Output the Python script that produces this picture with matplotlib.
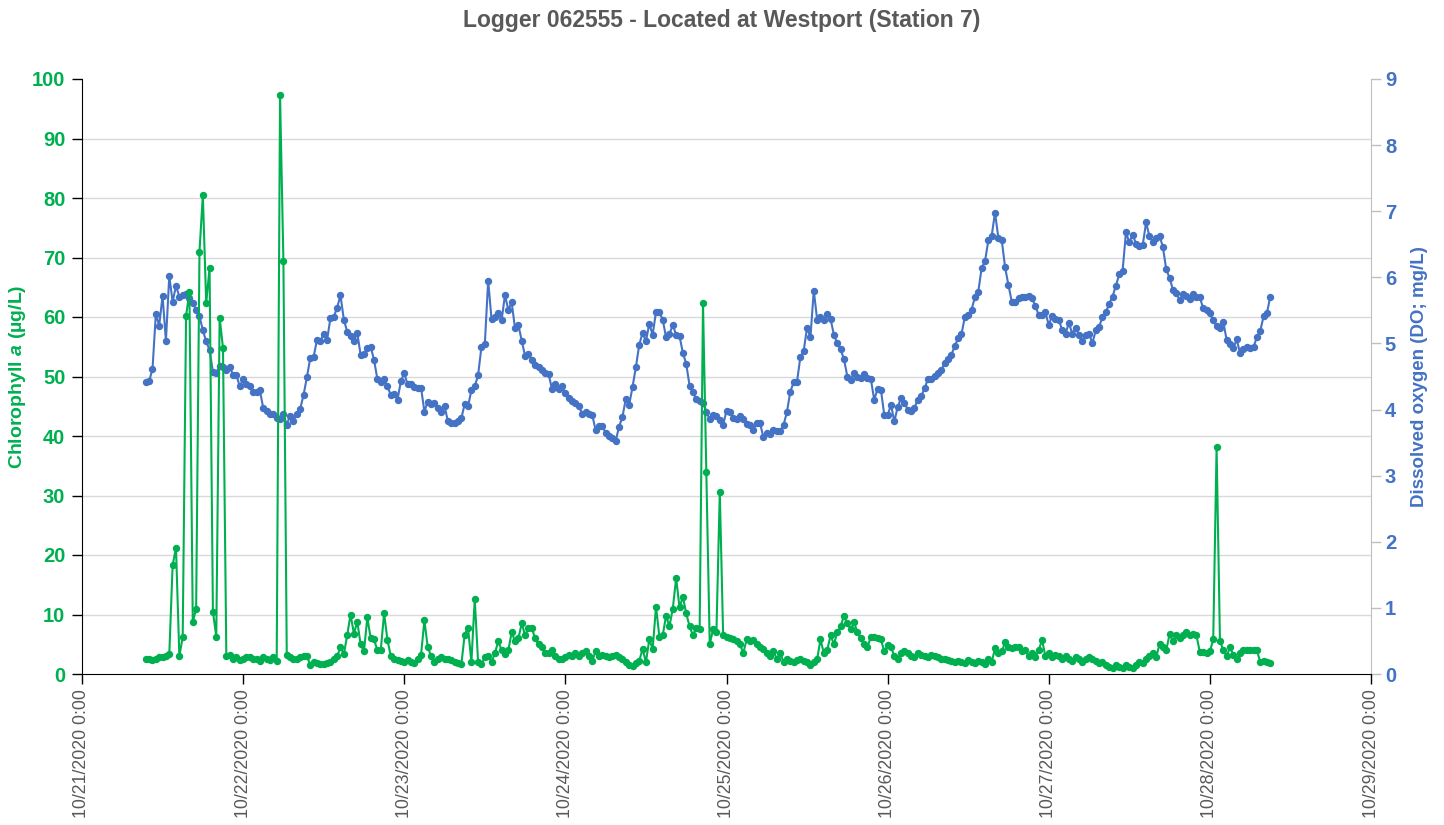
import numpy as np
import pandas as pd
import matplotlib
matplotlib.use("Agg")
import matplotlib.pyplot as plt
import matplotlib.dates as mdates
from matplotlib.ticker import FuncFormatter

plt.rcParams['font.family'] = ['Liberation Sans', 'DejaVu Sans']
plt.rcParams['mathtext.fontset'] = 'custom'
plt.rcParams['mathtext.it'] = 'Liberation Sans:bold:italic'
plt.rcParams['mathtext.rm'] = 'Liberation Sans:bold'

# 30-minute logger readings, 10/21 09:30 -> 10/28 09:00
times = pd.date_range("2020-10-21 09:30", periods=336, freq="30min")

chl = [
    2.5, 2.6, 2.3, 2.6, 2.8, 2.9, 3.1, 3.3, 18.3, 21.2, 3.0, 6.2,
    60.2, 64.2, 8.8, 10.9, 71.0, 80.5, 62.3, 68.3, 10.5, 6.3, 59.9, 54.8,
    3.0, 3.2, 2.5, 2.8, 2.4, 2.5, 2.8, 2.8, 2.6, 2.5, 2.2, 2.9,
    2.6, 2.4, 2.9, 2.2, 97.3, 69.4, 3.2, 2.8, 2.6, 2.5, 2.8, 3.0,
    3.0, 1.5, 2.0, 1.8, 1.6, 1.7, 1.8, 2.0, 2.5, 3.0, 4.5, 3.3,
    6.5, 10.0, 6.8, 8.8, 5.0, 3.8, 9.5, 6.0, 5.8, 4.0, 4.0, 10.2,
    5.7, 3.0, 2.5, 2.3, 2.2, 2.0, 2.3, 2.0, 1.8, 2.5, 3.2, 9.0,
    4.5, 3.0, 2.0, 2.5, 2.8, 2.5, 2.6, 2.3, 2.0, 1.8, 1.6, 6.6,
    7.8, 2.0, 12.6, 2.0, 1.6, 2.8, 3.0, 2.0, 3.5, 5.5, 4.0, 3.3,
    4.0, 7.0, 5.5, 6.0, 8.5, 6.5, 7.7, 7.7, 6.0, 5.0, 4.5, 3.5,
    3.5, 4.0, 3.0, 2.6, 2.5, 2.8, 3.2, 3.0, 3.5, 3.0, 3.5, 3.8,
    3.0, 2.2, 3.8, 3.0, 3.2, 3.0, 2.8, 3.0, 3.2, 2.8, 2.6, 2.0,
    1.5, 1.4, 1.8, 2.2, 4.2, 2.0, 5.8, 4.2, 11.3, 6.3, 6.5, 9.8,
    8.0, 11.0, 16.1, 11.2, 13.0, 10.2, 8.0, 6.5, 7.8, 7.5, 62.3, 34.0,
    5.0, 7.5, 7.0, 30.6, 6.5, 6.2, 6.0, 5.8, 5.5, 5.0, 3.5, 5.8,
    5.5, 5.7, 5.0, 4.5, 4.2, 3.5, 3.0, 3.8, 2.5, 3.5, 2.0, 2.5,
    2.2, 2.0, 2.3, 2.5, 2.2, 2.1, 1.5, 2.0, 2.5, 5.8, 3.5, 4.0,
    6.5, 5.0, 7.0, 8.0, 9.8, 8.5, 7.5, 8.7, 7.0, 6.0, 5.0, 4.5,
    6.3, 6.3, 6.0, 5.8, 3.8, 4.8, 4.5, 3.0, 2.5, 3.5, 3.8, 3.6,
    3.0, 2.8, 3.5, 3.2, 3.0, 2.8, 3.2, 3.0, 2.8, 2.6, 2.5, 2.3,
    2.2, 2.0, 2.2, 2.0, 1.8, 2.3, 2.0, 1.8, 2.2, 2.0, 1.6, 2.5,
    2.0, 4.3, 3.5, 3.8, 5.3, 4.5, 4.3, 4.5, 4.5, 3.8, 4.0, 3.0,
    3.5, 2.8, 4.0, 5.7, 3.0, 3.5, 2.8, 3.2, 3.0, 2.5, 3.0, 2.5,
    2.2, 2.8, 2.5, 2.0, 2.5, 2.8, 2.5, 2.2, 1.8, 2.0, 1.5, 1.2,
    1.0, 1.5, 1.2, 1.0, 1.5, 1.2, 1.0, 1.5, 2.0, 1.8, 2.5, 3.0,
    3.5, 2.8, 5.0, 4.5, 4.0, 6.7, 5.5, 6.5, 6.0, 6.5, 7.0, 6.5,
    6.8, 6.5, 3.7, 3.7, 3.5, 3.8, 5.8, 38.1, 5.6, 4.0, 3.0, 4.5,
    3.2, 2.5, 3.5, 4.0, 4.0, 4.0, 4.0, 4.0, 2.0, 2.2, 2.0, 1.9,
]

do = [
    4.41, 4.43, 4.61, 5.45, 5.27, 5.72, 5.04, 6.02, 5.63, 5.87, 5.71, 5.74,
    5.75, 5.69, 5.61, 5.51, 5.41, 5.20, 5.03, 4.90, 4.57, 4.56, 4.66, 4.65,
    4.60, 4.65, 4.52, 4.52, 4.35, 4.46, 4.39, 4.35, 4.27, 4.27, 4.29, 4.02,
    3.98, 3.94, 3.93, 3.87, 3.85, 3.93, 3.77, 3.91, 3.83, 3.94, 4.01, 4.22,
    4.49, 4.78, 4.80, 5.05, 5.04, 5.14, 5.05, 5.38, 5.40, 5.54, 5.73, 5.36,
    5.18, 5.11, 5.04, 5.16, 4.83, 4.84, 4.93, 4.95, 4.75, 4.46, 4.42, 4.46,
    4.35, 4.22, 4.24, 4.15, 4.43, 4.55, 4.38, 4.38, 4.34, 4.33, 4.33, 3.97,
    4.12, 4.09, 4.10, 4.02, 3.97, 4.06, 3.82, 3.80, 3.79, 3.83, 3.87, 4.08,
    4.05, 4.29, 4.35, 4.52, 4.95, 4.99, 5.95, 5.37, 5.40, 5.46, 5.35, 5.73,
    5.51, 5.62, 5.23, 5.28, 5.04, 4.81, 4.84, 4.75, 4.67, 4.65, 4.60, 4.56,
    4.54, 4.31, 4.39, 4.31, 4.35, 4.25, 4.17, 4.13, 4.10, 4.05, 3.94, 3.97,
    3.94, 3.92, 3.69, 3.75, 3.75, 3.65, 3.60, 3.57, 3.53, 3.74, 3.89, 4.16,
    4.07, 4.34, 4.64, 4.98, 5.16, 5.03, 5.30, 5.13, 5.48, 5.47, 5.36, 5.09,
    5.14, 5.28, 5.13, 5.11, 4.86, 4.69, 4.36, 4.26, 4.16, 4.13, 4.10, 3.97,
    3.85, 3.92, 3.91, 3.84, 3.77, 3.98, 3.97, 3.87, 3.85, 3.90, 3.85, 3.78,
    3.76, 3.69, 3.80, 3.79, 3.58, 3.65, 3.63, 3.69, 3.67, 3.67, 3.77, 3.96,
    4.27, 4.41, 4.42, 4.79, 4.89, 5.24, 5.09, 5.80, 5.36, 5.40, 5.36, 5.45,
    5.37, 5.13, 5.00, 4.91, 4.76, 4.50, 4.45, 4.55, 4.50, 4.47, 4.54, 4.47,
    4.46, 4.15, 4.31, 4.30, 3.92, 3.92, 4.07, 3.82, 4.04, 4.17, 4.10, 4.00,
    3.98, 4.03, 4.15, 4.20, 4.32, 4.46, 4.46, 4.51, 4.55, 4.60, 4.70, 4.76,
    4.83, 4.96, 5.08, 5.14, 5.40, 5.43, 5.51, 5.70, 5.78, 6.14, 6.24, 6.56,
    6.63, 6.98, 6.59, 6.56, 6.15, 5.88, 5.63, 5.63, 5.68, 5.70, 5.70, 5.72,
    5.68, 5.57, 5.43, 5.43, 5.47, 5.28, 5.42, 5.37, 5.36, 5.20, 5.15, 5.31,
    5.15, 5.24, 5.13, 5.04, 5.13, 5.15, 5.00, 5.20, 5.25, 5.40, 5.47, 5.60,
    5.71, 5.87, 6.05, 6.10, 6.68, 6.53, 6.64, 6.51, 6.48, 6.49, 6.83, 6.62,
    6.54, 6.59, 6.63, 6.46, 6.12, 5.99, 5.81, 5.77, 5.65, 5.75, 5.72, 5.67,
    5.75, 5.71, 5.70, 5.53, 5.51, 5.46, 5.35, 5.26, 5.24, 5.33, 5.05, 4.99,
    4.93, 5.06, 4.85, 4.91, 4.95, 4.93, 4.95, 5.09, 5.19, 5.41, 5.46, 5.71,
]

GREEN = "#00B050"
BLUE = "#4472C4"
GRID = "#D9D9D9"
TEXT = "#595959"

fig = plt.figure(figsize=(14.44, 8.25), dpi=100)
ax = fig.add_axes([82 / 1444, 1 - 674 / 825, (1371 - 82) / 1444, (674 - 79) / 825])
ax2 = ax.twinx()

# chlorophyll on top of DO
ax.set_zorder(2)
ax2.set_zorder(1)
ax.patch.set_visible(False)

ax2.plot(times, do, color=BLUE, lw=1.5, marker="o", ms=4.3, mec=BLUE, mfc=BLUE)
ax.plot(times, chl, color=GREEN, lw=1.5, marker="o", ms=4.3, mec=GREEN, mfc=GREEN)

x0 = pd.Timestamp("2020-10-21")
x1 = pd.Timestamp("2020-10-29")
ax.set_xlim(x0, x1)
ax.set_ylim(0, 100)
ax2.set_ylim(0, 9)

ax.set_yticks(np.arange(0, 101, 10))
ax2.set_yticks(np.arange(0, 10, 1))
ax.xaxis.set_major_locator(mdates.DayLocator())
ax.xaxis.set_major_formatter(FuncFormatter(
    lambda v, p: "{d.month}/{d.day}/{d.year} 0:00".format(d=mdates.num2date(v))))

# gridlines (drawn on the lower axes so they sit behind both series)
ax2.set_yticks(np.arange(0, 9.01, 0.9), minor=True)
ax2.grid(which="minor", axis="y", color=GRID, lw=1)
ax2.grid(which="major", axis="x", color=GRID, lw=1)
ax2.tick_params(axis="y", which="minor", length=0)
ax.grid(False)

for s in ["top"]:
    ax.spines[s].set_visible(False)
    ax2.spines[s].set_visible(False)
ax.spines["right"].set_visible(False)
ax2.spines["left"].set_visible(False)
ax2.spines["bottom"].set_visible(False)
ax.spines["left"].set_color("black")
ax.spines["bottom"].set_color("black")
ax2.spines["right"].set_color("#BFBFBF")

ax.tick_params(axis="y", colors="black", labelcolor=GREEN, length=7, width=1, labelsize=14.5, pad=5)
for t in ax.get_yticklabels():
    t.set_fontweight("bold")
ax2.tick_params(axis="y", which="major", colors="#BFBFBF", labelcolor=BLUE, length=7, width=1,
                labelsize=14.5, pad=3)
for t in ax2.get_yticklabels():
    t.set_fontweight("bold")
ax.tick_params(axis="x", colors="black", labelcolor=TEXT, length=7, width=1, labelsize=12.8,
               labelrotation=90, pad=4)

ax.set_ylabel("Chlorophyll $a$ (µg/L)", color=GREEN, fontsize=14, fontweight="bold", labelpad=3)
ax2.set_ylabel("Dissolved oxygen (DO; mg/L)", color=BLUE, fontsize=13.5, fontweight="bold", labelpad=11)

fig.suptitle("Logger 062555 - Located at Westport (Station 7)", x=0.5, y=1 - 21 / 825,
             va="center", fontsize=16.5, fontweight="bold", color=TEXT)

fig.savefig("out.png", dpi=100)
